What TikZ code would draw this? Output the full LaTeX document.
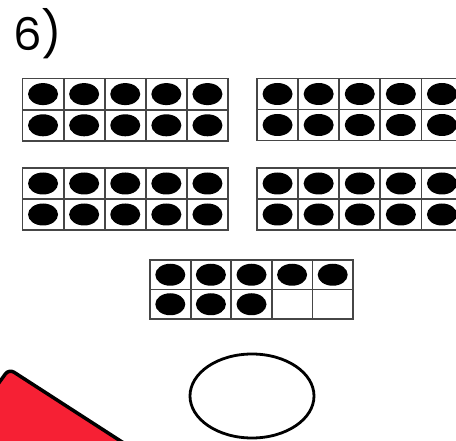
\documentclass[tikz,border=0pt]{standalone}
\usepackage{fontspec}
\setmainfont{Poppins}
\definecolor{redfill}{RGB}{246,32,52}
\definecolor{gridline}{RGB}{70,70,70}
\begin{document}
\begin{tikzpicture}[x=1pt,y=-1pt,
  cellbox/.style={draw=gridline,line width=1.8pt},
  dotmark/.style={fill=black,draw=none},
  ovalbox/.style={draw=black,line width=2.8pt},
  redshape/.style={fill=redfill,draw=black,line width=3.5pt,rounded corners=6pt}]
\useasboundingbox (0,0) rectangle (456,441);
\clip (0,0) rectangle (456,441);
\fill[white] (0,0) rectangle (456,441);
% label
\node[anchor=base west,inner sep=0pt,font=\fontsize{45}{45}\selectfont] (label) at (13,51) {6)};
% ten frames
\foreach \name/\xo/\yo/\cw/\ch/\n in {tl/22.5/78.5/41.1/31.2/10, tr/257/78.5/41.1/31/10, ml/22.5/168/41.1/31/10, mr/257/168/41.1/31/10, bt/150/260/40.6/29.5/8}{
  \foreach \r in {0,1}{
    \foreach \c in {0,...,4}{
      \pgfmathsetmacro{\xa}{\xo+\c*\cw}
      \pgfmathsetmacro{\ya}{\yo+\r*\ch}
      \draw[cellbox] (\xa,\ya) rectangle ++(\cw,\ch);
      \pgfmathtruncatemacro{\idx}{\r*5+\c+1}
      \ifnum\idx>\n\else
        \fill[dotmark] (\xa+\cw/2,\ya+\ch/2) ellipse [x radius=15, y radius=11];
      \fi
    }
  }
}
% oval
\draw[ovalbox] (252,396) ellipse [x radius=62, y radius=42];
% red shape
\draw[redshape] (-10,395) -- (9,369) -- (150,460) -- (-10,470) -- cycle;
\end{tikzpicture}
\end{document}
